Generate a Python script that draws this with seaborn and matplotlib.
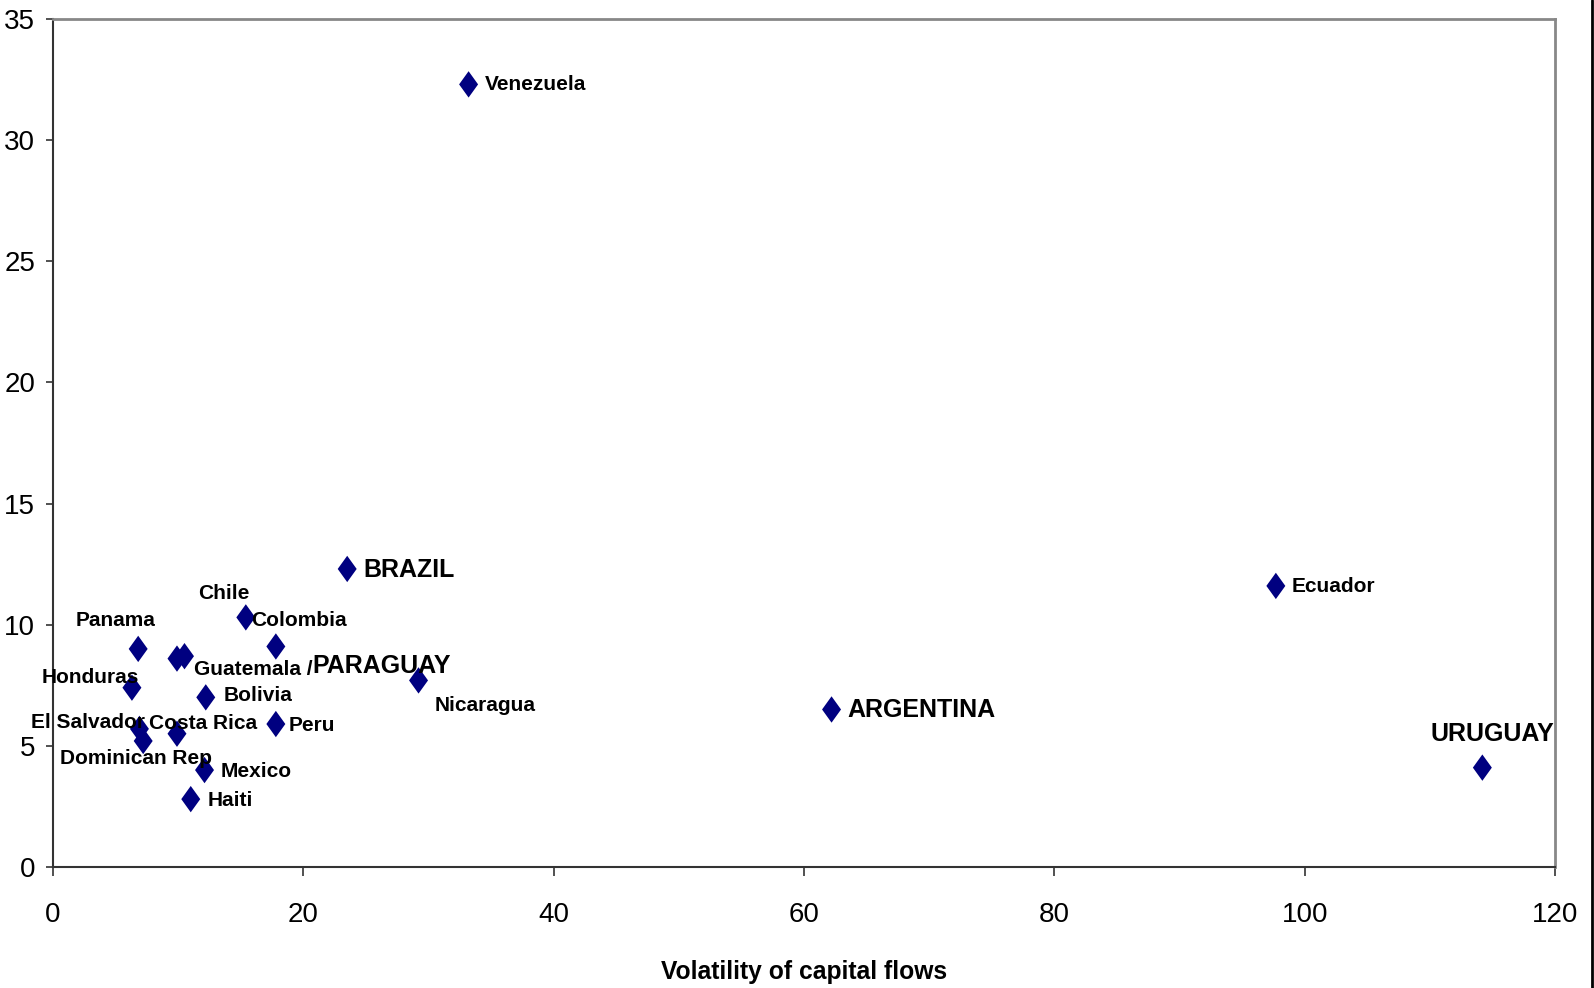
import matplotlib
matplotlib.use("Agg")
import matplotlib.pyplot as plt
import matplotlib.lines as mlines
import pandas as pd
import seaborn as sns

# Values
countries = ["Venezuela", "BRAZIL", "Ecuador", "ARGENTINA", "URUGUAY", "Chile", "Colombia",
             "Panama", "Guatemala /", "PARAGUAY", "Nicaragua", "Honduras", "Bolivia",
             "El Salvador", "Dominican Rep", "Costa Rica", "Peru", "Mexico", "Haiti"]
volatility = [33.2, 23.5, 97.7, 62.2, 114.2, 15.4, 17.8, 6.8, 9.9, 10.5, 29.2, 6.3, 12.2,
              6.9, 7.2, 9.9, 17.8, 12.1, 11.0]
value = [32.3, 12.3, 11.6, 6.5, 4.1, 10.3, 9.1, 9.0, 8.6, 8.7, 7.7, 7.4, 7.0,
         5.7, 5.2, 5.5, 5.9, 4.0, 2.8]
big_labels = ["BRAZIL", "ARGENTINA", "URUGUAY", "PARAGUAY"]

# label placement: (horizontal alignment, dx px, dy px downward)
label_pos = {
    "Venezuela": ("left", 16, 0), "BRAZIL": ("left", 16, 1), "Ecuador": ("left", 16, 1),
    "ARGENTINA": ("left", 16, 1), "URUGUAY": ("center", 10, -34),
    "Chile": ("center", -22, -24), "Colombia": ("center", 23, -26),
    "Panama": ("center", -23, -28), "Guatemala /": ("left", 17, 11),
    "PARAGUAY": ("left", 128, 10), "Nicaragua": ("left", 16, 25),
    "Honduras": ("right", 7, -10), "Bolivia": ("left", 18, -2),
    "El Salvador": ("right", 6, -6), "Dominican Rep": ("left", -83, 18),
    "Costa Rica": ("left", -28, -10), "Peru": ("left", 13, 1),
    "Mexico": ("left", 16, 1), "Haiti": ("left", 17, 1),
}

df = pd.DataFrame({"country": countries, "volatility": volatility, "value": value})

sns.set_style("white")
plt.rcParams["font.family"] = ["Liberation Sans", "DejaVu Sans"]
plt.rcParams["text.color"] = "black"
plt.rcParams["xtick.color"] = "black"
plt.rcParams["ytick.color"] = "black"
plt.rcParams["axes.labelcolor"] = "black"

fig = plt.figure(figsize=(15.94, 9.88), dpi=100)
ax = fig.add_axes([0.0333, 0.1225, 0.9422, 0.8583])

diamond = [(0, 1), (0.72, 0), (0, -1), (-0.72, 0), (0, 1)]
sns.scatterplot(data=df, x="volatility", y="value", marker=diamond, s=360,
                color="#000080", edgecolor="none", ax=ax, zorder=3)

for name, xv, yv in zip(countries, volatility, value):
    ha, dx, dy = label_pos[name]
    size = 18 if name in big_labels else 15
    ax.annotate(name, (xv, yv), xytext=(dx, -dy), textcoords="offset pixels",
                ha=ha, va="center", fontsize=size, fontweight="bold", color="black")

ax.set_xlim(0, 120)
ax.set_ylim(0, 35)
ax.set_xticks(range(0, 121, 20))
ax.set_yticks(range(0, 36, 5))
ax.tick_params(axis="x", direction="out", length=6.5, width=1.2, pad=19, labelsize=20,
               bottom=True, color="#333333", labelcolor="black")
ax.tick_params(axis="y", direction="out", length=5, width=1.2, pad=8, labelsize=20,
               left=True, color="#333333", labelcolor="black")
ax.set_xlabel("Volatility of capital flows", fontsize=17.7, fontweight="bold", labelpad=23)
ax.set_ylabel("")

for side in ["left", "bottom"]:
    ax.spines[side].set_color("#333333")
    ax.spines[side].set_linewidth(1.5)
for side in ["top", "right"]:
    ax.spines[side].set_color("#888888")
    ax.spines[side].set_linewidth(2)

fig.add_artist(mlines.Line2D([0.9987, 0.9987], [0, 1], transform=fig.transFigure,
                             color="black", lw=2))

fig.savefig("out.png", dpi=100)
